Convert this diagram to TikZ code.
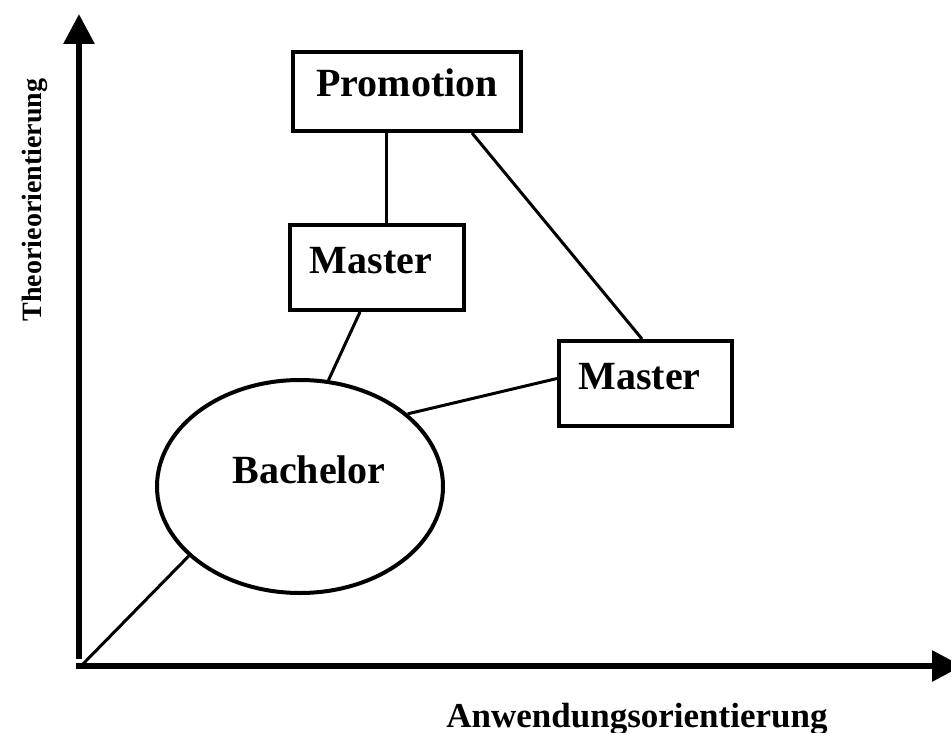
\documentclass[tikz,border=0pt]{standalone}
\usepackage{fontspec}
\setmainfont{Liberation Serif}
\usetikzlibrary{arrows.meta,shapes.geometric}
\begin{document}
\begin{tikzpicture}[x=1pt,y=-1pt,
  box/.style={draw,line width=4pt,rectangle,inner sep=0pt,text height=27pt,text depth=16pt,
    font=\fontsize{40}{40}\selectfont\bfseries},
  conn/.style={line width=3pt},
  axis/.style={line width=6pt,-{Triangle[length=30pt,width=30pt]}},
  lab/.style={inner sep=0pt,font=\fontsize{40}{40}\selectfont\bfseries}]
\useasboundingbox (0,0) rectangle (951,733);
\clip (0,0) rectangle (951,733);
% axes
\coordinate (ybase) at (79,659);
\coordinate (ytip) at (79,14);
\coordinate (xbase) at (76,666);
\coordinate (xtip) at (962,666);
\coordinate (O) at (80,667);
\draw[axis] (ybase) -- (ytip);
\draw[axis] (xbase) -- (xtip);
% nodes
\node[box,minimum width=228pt,minimum height=79pt] (prom) at (407,91.5) {Promotion};
\node[box,minimum width=174pt,minimum height=85pt] (m1) at (377,267.5) {Master\kern12pt};
\node[box,minimum width=173pt,minimum height=85pt] (m2) at (645.5,383.5) {Master\kern12pt};
\node[ellipse,draw,line width=4pt,minimum width=286pt,minimum height=213pt,inner sep=0pt] (bach) at (300,486.5) {};
\node[lab,anchor=base] (bachtxt) at (309,483) {Bachelor};
% axis labels
\node[inner sep=0pt,anchor=base,font=\fontsize{35}{35}\selectfont\bfseries] (xl) at (637,727) {Anwendungsorientierung};
\node[inner sep=0pt,anchor=base,rotate=90,font=\fontsize{28}{28}\selectfont\bfseries] (yl) at (41,200) {Theorieorientierung};
% connectors
\coordinate (c1) at (386,0);
\coordinate (c2) at (472,0);
\coordinate (c3) at (642,0);
\coordinate (c4) at (360,0);
\draw[conn] (prom.south -| c1) -- (m1.north -| c1);
\draw[conn] (prom.south -| c2) -- (m2.north -| c3);
\draw[conn] (m1.south -| c4) -- (bach.75);
\draw[conn] (bach.34) -- ([yshift=5pt]m2.west);
\draw[conn] (O) -- (bach.212);
\end{tikzpicture}
\end{document}
